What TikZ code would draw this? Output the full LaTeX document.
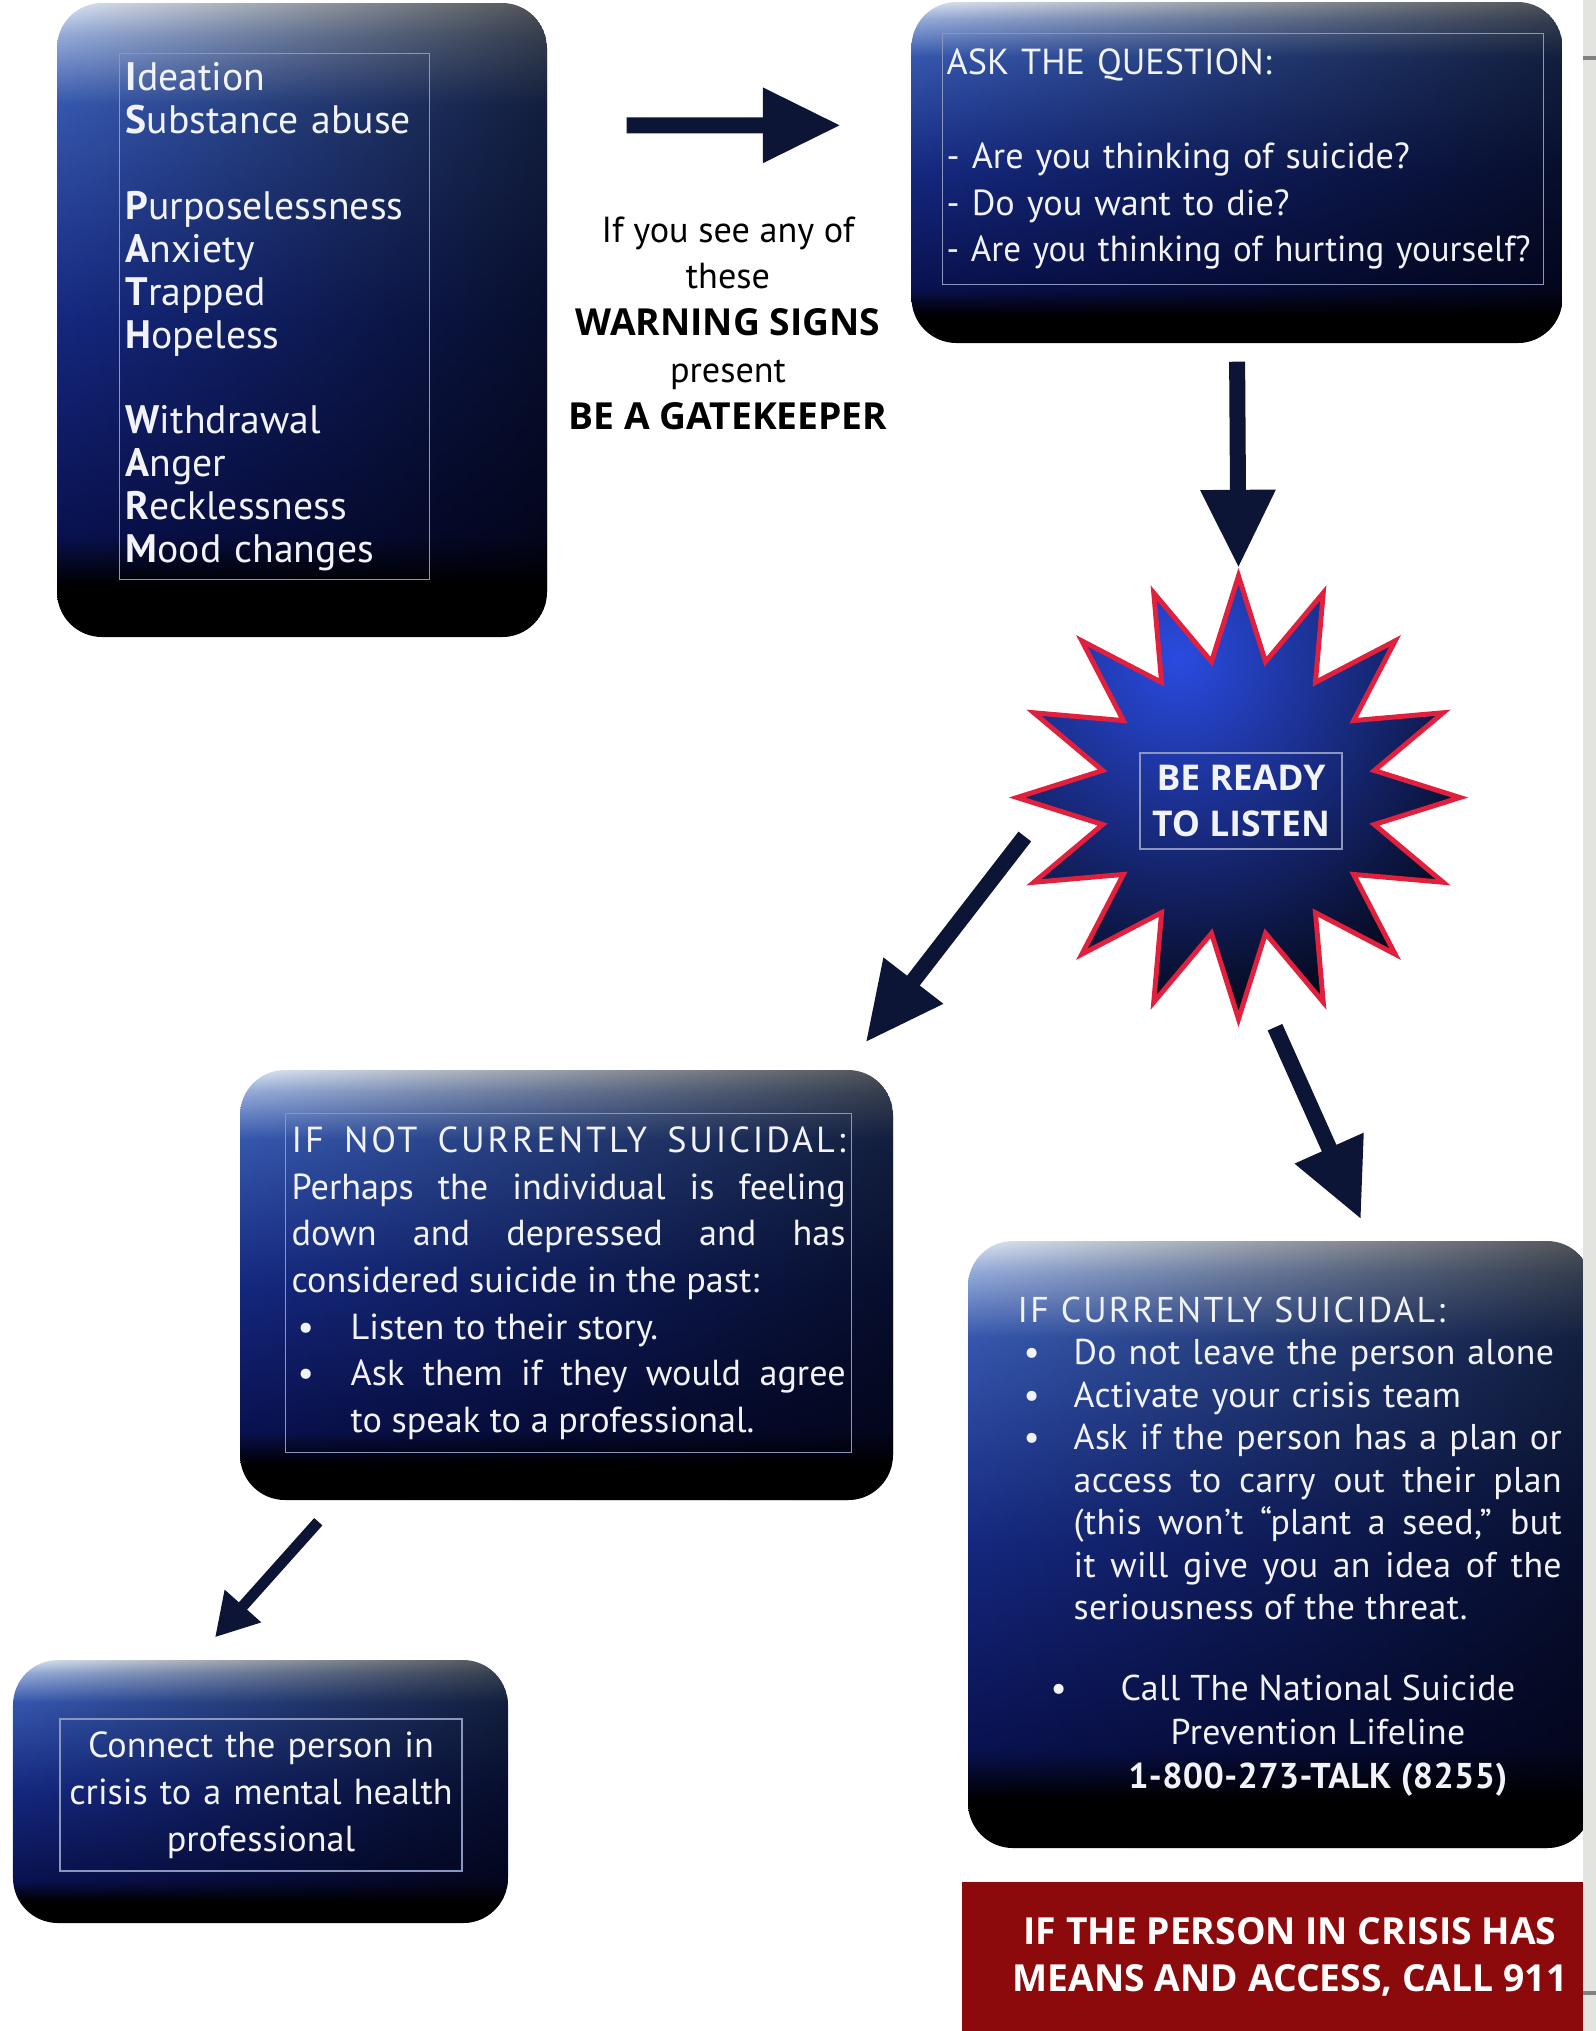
\documentclass[tikz,border=0pt]{standalone}
\usepackage{fontspec}
\setmainfont{PT Sans}
\newfontfamily\headfont{Open Sans}
\usepackage{tikz}
\usetikzlibrary{arrows.meta,shapes.geometric,fadings,backgrounds}
\definecolor{navytop}{HTML}{DDE6F4}
\definecolor{navyrim}{HTML}{95ABD9}
\definecolor{navyhi}{HTML}{3557AE}
\definecolor{navymid}{HTML}{15287F}
\definecolor{navydk}{HTML}{0A1250}
\definecolor{paper}{HTML}{F2F3F8}
\definecolor{framec}{HTML}{8A96BE}
\definecolor{arrowc}{HTML}{0C1535}
\definecolor{starred}{HTML}{E0203C}
\definecolor{starblue}{HTML}{2A4BE0}
\definecolor{crisisred}{HTML}{8C0A0C}
\definecolor{stripgray}{HTML}{E3E3DF}
\definecolor{tickgray}{HTML}{808080}
% path box is mapped onto 25bp..75bp
\pgfdeclareverticalshading{navybox}{100bp}{color(0bp)=(black); color(29bp)=(black);
  color(33bp)=(navydk); color(50bp)=(navymid); color(67bp)=(navyhi);
  color(72.5bp)=(navyrim); color(75bp)=(navytop); color(100bp)=(navytop)}
\tikzfading[name=darkright,left color=transparent!100,middle color=transparent!100,
  right color=transparent!35]
\newcommand{\bul}{\makebox[5.9mm][l]{\hspace{0.6mm}\textbullet}}
\newcommand{\bulc}{\makebox[5.6mm][l]{\hspace{0.6mm}\textbullet}}
\tikzset{
  panel/.style={rounded corners=4.5mm,shading=navybox,inner sep=0pt,
    path picture={\fill[black,path fading=darkright]
      (path picture bounding box.south west) rectangle (path picture bounding box.north east);}},
  fr/.style={draw=framec,line width=0.4pt,text=paper,inner xsep=0.6mm,inner ysep=0pt,
    align=left,font=\fontsize{10.3}{13.3}\selectfont},
  txt/.style={text=paper,inner sep=0pt,align=left,font=\fontsize{10.3}{13.3}\selectfont},
  lbl/.style={text=black,align=center,inner sep=0pt,font=\fontsize{10.3}{13.3}\selectfont},
  flow/.style={-{Triangle[length=7.8mm,width=7.1mm]},line width=1.6mm,draw=arrowc},
  flowsm/.style={-{Triangle[length=4.2mm,width=4.6mm]},line width=1.1mm,draw=arrowc}
}
\begin{document}
\begin{tikzpicture}
  \useasboundingbox (0,0) rectangle (15.96,-20.31);
  % panels
  \node[panel,minimum width=49mm,minimum height=63.4mm] (signs) at (3.02,-3.20) {};
  \node[panel,minimum width=65.1mm,minimum height=34.1mm] (ask) at (12.37,-1.725) {};
  \node[panel,minimum width=65.3mm,minimum height=43mm] (notcur) at (5.665,-12.85) {};
  \node[panel,minimum width=49.5mm,minimum height=26.3mm] (conn) at (2.605,-17.915) {};
  \node[panel,minimum width=62.4mm,minimum height=60.7mm] (cur) at (12.80,-15.445) {};
  \node[fill=crisisred,minimum width=65.6mm,minimum height=15mm,align=center,text=white,
    font=\headfont\bfseries\fontsize{10.6}{13.2}\selectfont] (call) at (12.90,-19.57)
    {IF THE PERSON IN CRISIS HAS\\MEANS AND ACCESS, CALL 911};
  % star
  \node[star,star points=16,star point ratio=1.6,minimum size=44.3mm,inner sep=0pt,
    draw=starred,line width=1.4pt,
    path picture={\fill[black] (path picture bounding box.south west) rectangle (path picture bounding box.north east);
      \shade[inner color=starblue,outer color=black]
        ([xshift=-6mm,yshift=14mm]path picture bounding box.center) circle (4.1cm);}]
    (rdy) at (12.385,-7.975) {};
  % arrows
  \begin{scope}[on background layer]
  \draw[flow,shorten <=7.9mm,shorten >=7mm] ([yshift=-12.3mm]signs.north east)
    -- ([yshift=-12.4mm]ask.north west);
  \draw[flow,shorten <=1.8mm] (ask.south) -- (rdy.north);
  \draw[flow] ([xshift=1.6mm,yshift=-3.9mm]rdy.west) -- ([xshift=-2.8mm,yshift=2.7mm]notcur.north east);
  \draw[flow] ([xshift=3.65mm]rdy.south) -- ([xshift=8.1mm,yshift=2.1mm]cur.north);
  \draw[flowsm] ([xshift=7.9mm,yshift=-2.1mm]notcur.south west) -- ([xshift=-4.55mm,yshift=2.2mm]conn.north);
  \end{scope}
  % texts
  \node[fr,anchor=north west,text width=29.8mm,minimum height=52.6mm,
    font=\fontsize{11.3}{12.2}\selectfont] (signtxt) at (1.19,-0.53)
    {\textbf{I}deation\\\textbf{S}ubstance abuse\\[12.2pt]
     \textbf{P}urposelessness\\\textbf{A}nxiety\\\textbf{T}rapped\\\textbf{H}opeless\\[12.2pt]
     \textbf{W}ithdrawal\\\textbf{A}nger\\\textbf{R}ecklessness\\\textbf{M}ood changes};
  \node[lbl] (warn) at (7.28,-3.23)
    {If you see any of\\these\\{\headfont\bfseries\fontsize{10.6}{13.3}\selectfont WARNING SIGNS}\\present\\
     {\headfont\bfseries\fontsize{10.6}{13.3}\selectfont BE A GATEKEEPER}};
  \node[fr,anchor=north west,text width=59.3mm,minimum height=25.1mm,inner xsep=0.4mm]
    (asktxt) at (9.42,-0.33)
    {ASK THE QUESTION:\\[13.3pt]- Are you thinking of suicide?\\- Do you want to die?\\
     \resizebox{58.4mm}{\height}{- Are you thinking of hurting yourself?}};
  \node[fr,font=\headfont\bfseries\fontsize{10.1}{12.9}\selectfont,align=center,minimum width=20.2mm,
    minimum height=9.6mm] (rdytxt) at (12.41,-8.01) {BE READY\\TO LISTEN};
  \node[fr,anchor=north west,text width=55.4mm,minimum height=33.9mm,align=justify]
    (notcurtxt) at (2.85,-11.13)
    {{\addfontfeatures{LetterSpace=8}IF NOT CURRENTLY SUICIDAL:}\linebreak
     Perhaps the individual is feeling\linebreak
     down and depressed and has\linebreak considered suicide in the past:\\
     \bul Listen to their story.\\
     \bul Ask them if they would agree\linebreak\hspace*{5.9mm}to speak to a professional.};
  \node[fr,text width=39mm,align=center,minimum height=15.2mm] (conntxt) at (2.61,-17.95)
    {Connect the person in\\crisis to a mental health\\professional};
  \node[txt,anchor=north west,text width=55mm,
    font=\fontsize{10.2}{12.1}\selectfont\addfontfeatures{LetterSpace=1}]
    (curtxt) at (10.17,-12.96)
    {{\addfontfeatures{LetterSpace=6}IF CURRENTLY SUICIDAL:}\\
     \bulc Do not leave the person alone\\
     \bulc Activate your crisis team\\
     \bulc\parbox[t]{48.8mm}{\rightskip=0pt\spaceskip=0pt\xspaceskip=0pt
       Ask if the person has a plan or\linebreak
       access to carry out their plan\linebreak (this won’t “plant a seed,” but\linebreak
       it will give you an idea of the\linebreak seriousness of the threat.}};
  \node[txt,align=center,font=\fontsize{10.2}{12.5}\selectfont\addfontfeatures{LetterSpace=1}]
    (lifetxt) at (13.18,-17.36)
    {\llap{\textbullet\hspace{5.4mm}}Call The National Suicide\\Prevention Lifeline\\
     \textbf{1-800-273-TALK (8255)}};
  % slide edge
  \fill[stripgray] (15.83,0) rectangle (15.96,-20.31);
  \foreach \y in {-0.58,-19.93}
    \draw[tickgray,line width=1pt] (15.83,\y) -- (15.96,\y);
\end{tikzpicture}
\end{document}
